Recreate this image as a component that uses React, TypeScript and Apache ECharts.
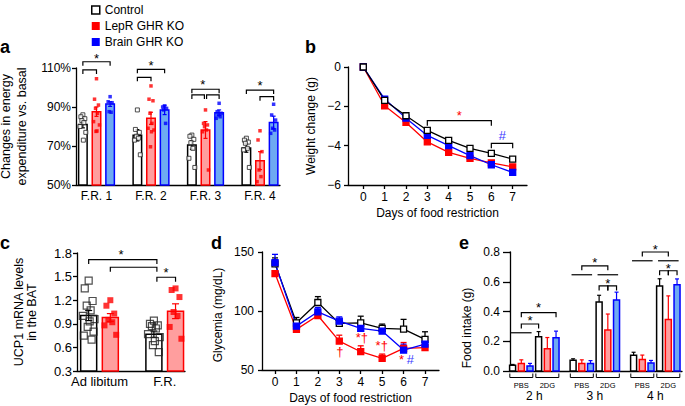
import React, { useEffect, useRef } from 'react';
import * as echarts from 'echarts';

const FONT = '"Liberation Sans", Arial, Helvetica, sans-serif';
const INK = '#000000';
const RED = '#ff0000';
const BLUE = '#0000ff';
const RED_FILL = '#ff9e9e';
const BLUE_FILL = '#6eaaf2';

// ---------- Panel a: energy expenditure (% of basal) ----------
const aCategories = ['F.R. 1', 'F.R. 2', 'F.R. 3', 'F.R. 4'];
const aTicks = [50, 70, 90, 110];
const aControl = [81, 75.5, 70.5, 69];
const aControlErr = [1.7, 2.9, 2.2, 2.2];
const aLepR = [87.6, 84.2, 78.2, 62.5];
const aLepRErr = [2.4, 3.1, 4.3, 4.6];
const aBrain = [91.5, 88.5, 87.1, 82.1];
const aBrainErr = [1.2, 2.4, 1.4, 3.2];
const aControlDots = [
  [86, 85, 84, 83, 82, 80, 77, 73],
  [88.5, 78.5, 77, 75, 74, 73, 65.5],
  [75.6, 75, 73.4, 71.7, 68.8, 63.7, 59],
  [74, 73, 72, 71.4, 68.8, 68, 59],
];
const aLepRDots = [
  [104.5, 94, 91, 89.3, 86.8, 82.5, 80.8, 77.7, 77.5],
  [100.8, 94, 93.2, 86.8, 81.6, 79.1, 78.2, 77.3, 69.6],
  [88.5, 81.6, 80.8, 79.9, 78.2, 77.3, 57.7],
  [77.8, 73.1, 67.1, 57.7, 54.3, 51.7],
];
const aBrainDots = [
  [95.3, 92.7, 92.2, 87.6, 87.3],
  [90.5, 90, 89.3, 88.5, 81.6],
  [91.9, 87.6, 86.8, 85.9, 85, 84.2],
  [91.4, 85.9, 83.3, 79.1, 78.2, 76.5],
];
// significance brackets: [from, to, level]
const aBrackets = [
  [-0.25, 0.25, 113.2], [-0.25, 0, 109],
  [0.75, 1.25, 109.3], [0.75, 1, 105.2],
  [1.75, 2.25, 99.1], [1.75, 1.98, 96.2], [2.02, 2.25, 96.2],
  [2.75, 3.25, 98.7], [3, 3.25, 95.3],
];
const aStars = [[0, 115.1], [1, 111.2], [1.95, 101.4], [3, 100.9]];

// ---------- Panel b: weight change ----------
const days = [0, 1, 2, 3, 4, 5, 6, 7];
const bTicks = [-6, -4, -2, 0];
const bControl = [0, -1.7, -2.48, -3.22, -3.73, -4.14, -4.39, -4.68];
const bLepR = [0, -1.97, -2.82, -3.81, -4.34, -4.65, -4.88, -5.08];
const bBrain = [0, -1.63, -2.6, -3.48, -4.0, -4.51, -4.97, -5.36];
const bBrackets = [[3, 6, -2.73], [6, 7, -3.88]];
const bNotes = [[4.5, -2.46], [6.5, -3.5]];
const bNoteText = ['*', '#'];
const bNoteColor = [RED, '#3a3aff'];

// ---------- Panel c: UCP1 mRNA ----------
const cCategories = ['Ad libitum', 'F.R.'];
const cTicks = [0.3, 0.6, 0.9, 1.2, 1.5, 1.8];
const cControl = [1.005, 0.768];
const cControlErr = [0.064, 0.04];
const cLepR = [0.98, 1.06];
const cLepRErr = [0.05, 0.094];
const cControlDots = [
  [1.45, 1.35, 1.19, 1.13, 1.07, 1.0, 0.96, 0.93, 0.86, 0.8, 0.75, 0.7],
  [0.94, 0.9, 0.88, 0.87, 0.84, 0.77, 0.73, 0.68, 0.63, 0.54],
];
const cLepRDots = [
  [1.2, 1.13, 1.03, 0.95, 0.92, 0.88, 0.76],
  [1.35, 1.33, 1.24, 1.05, 1.0, 0.86, 0.71],
];
const cBrackets = [[-0.166, 0.88, 1.717], [0.166, 0.88, 1.619], [0.88, 1.166, 1.492]];
const cStars = [[0.33, 1.784], [1.02, 1.552]];

// ---------- Panel d: glycemia ----------
const dTicks = [50, 100, 150];
const dControl = [140, 90, 107.2, 89.5, 90, 85.2, 84.7, 75.9];
const dControlErr = [5, 4.5, 5, 2, 5.6, 3.7, 8.2, 6.5];
const dLepR = [131.7, 84.4, 96.2, 74.5, 65.5, 59.9, 68.3, 68.9];
const dLepRErr = [2, 2, 2, 5, 5, 3.6, 5, 2];
const dBrain = [141, 87.2, 99.3, 91.4, 85.2, 83, 66.9, 72];
const dBrainErr = [7, 3, 3.7, 3.6, 3, 3, 5, 3];
const dNotes = [[3.03, 65.5], [4.05, 77.6], [4.98, 71.1], [5.9, 59], [6.3, 59]];
const dNoteText = ['†', '*†', '*†', '*', '#'];
const dNoteColor = [RED, RED, RED, RED, '#3a3aff'];

// ---------- Panel e: food intake ----------
const eGroups = ['2 h', '3 h', '4 h'];
const eTreatments = ['PBS', '2DG'];
const eTicks = [0, 0.2, 0.4, 0.6, 0.8];
// order: 2h PBS, 2h 2DG, 3h PBS, 3h 2DG, 4h PBS, 4h 2DG
const eControl = [0.038, 0.23, 0.072, 0.464, 0.106, 0.572];
const eControlErr = [0.006, 0.035, 0.01, 0.045, 0.02, 0.048];
const eLepR = [0.05, 0.15, 0.05, 0.275, 0.077, 0.347];
const eLepRErr = [0.025, 0.075, 0.025, 0.108, 0.03, 0.158];
const eBrain = [0.034, 0.223, 0.05, 0.478, 0.054, 0.579];
const eBrainErr = [0.017, 0.045, 0.02, 0.052, 0.017, 0.04];
const eLines = [[-0.385, -0.045, 0.257], [0.615, 0.955, 0.647], [1.045, 1.385, 0.647], [1.615, 1.955, 0.741], [2.045, 2.385, 0.741]];
const eBrackets = [
  [-0.215, 0.071, 0.316], [-0.215, 0.359, 0.392],
  [0.785, 1.215, 0.707], [1.071, 1.215, 0.572], [1.215, 1.359, 0.572],
  [1.785, 2.215, 0.8], [2.071, 2.215, 0.674], [2.215, 2.359, 0.674],
];
const eStars = [[-0.07, 0.34], [0.07, 0.424], [1.0, 0.728], [1.215, 0.588], [2.0, 0.818], [2.215, 0.687]];

const JIT = [0, -0.6, 0.6, -0.3, 0.3, -0.9, 0.9, 0.15, -0.15, 0.75, -0.75, 0.45];

const GRIDS = [
  { left: 76, top: 68, width: 204, height: 117 },
  { left: 348, top: 67, width: 179, height: 118 },
  { left: 77, top: 253, width: 108, height: 118 },
  { left: 262, top: 252, width: 177, height: 118 },
  { left: 510, top: 252, width: 172, height: 119 },
];

const txt = { color: INK, fontFamily: FONT, fontSize: 12 };

function barRender(width: number, fill: string, stroke: string, base: number, both: boolean, cap: number) {
  return (params: any, api: any) => {
    const x = api.value(0);
    const y = api.value(1);
    const e = api.value(2);
    const top = api.coord([x, y]);
    const bot = api.coord([x, base]);
    const eTop = api.coord([x, y + e]);
    const eBot = api.coord([x, both ? y - e : y]);
    const children: any[] = [
      { type: 'rect', shape: { x: top[0] - width / 2, y: top[1], width, height: bot[1] - top[1] }, style: { fill, stroke, lineWidth: 1.5 } },
      { type: 'line', shape: { x1: eTop[0], y1: eTop[1], x2: eBot[0], y2: eBot[1] }, style: { stroke, lineWidth: 1.2 } },
      { type: 'line', shape: { x1: eTop[0] - cap / 2, y1: eTop[1], x2: eTop[0] + cap / 2, y2: eTop[1] }, style: { stroke, lineWidth: 1.2 } },
    ];
    if (both) {
      children.push({ type: 'line', shape: { x1: eBot[0] - cap / 2, y1: eBot[1], x2: eBot[0] + cap / 2, y2: eBot[1] }, style: { stroke, lineWidth: 1.2 } });
    }
    return { type: 'group', children };
  };
}

function errRender(stroke: string, cap: number) {
  return (params: any, api: any) => {
    const x = api.value(0);
    const y = api.value(1);
    const e = api.value(2);
    const p = api.coord([x, y]);
    const t = api.coord([x, y + e]);
    return {
      type: 'group',
      children: [
        { type: 'line', shape: { x1: p[0], y1: p[1], x2: t[0], y2: t[1] }, style: { stroke, lineWidth: 1.3 } },
        { type: 'line', shape: { x1: t[0] - cap / 2, y1: t[1], x2: t[0] + cap / 2, y2: t[1] }, style: { stroke, lineWidth: 1.3 } },
      ],
    };
  };
}

function bracketSeries(gi: number, data: number[][], tick: number) {
  return {
    type: 'custom', xAxisIndex: gi, yAxisIndex: gi, silent: true, z: 5,
    data,
    renderItem: (params: any, api: any) => {
      const a = api.coord([api.value(0), api.value(2)]);
      const b = api.coord([api.value(1), api.value(2)]);
      return {
        type: 'polyline',
        shape: { points: [[a[0], a[1] + tick], [a[0], a[1]], [b[0], b[1]], [b[0], b[1] + tick]] },
        style: { stroke: INK, fill: null, lineWidth: 1.2 },
      };
    },
  };
}

function noteSeries(gi: number, data: number[][], texts: string[], colors: string[], size: number, italicHash = false) {
  return {
    type: 'custom', xAxisIndex: gi, yAxisIndex: gi, silent: true, z: 6,
    data,
    renderItem: (params: any, api: any) => {
      const p = api.coord([api.value(0), api.value(1)]);
      const t = texts[params.dataIndex];
      return {
        type: 'text', x: p[0], y: p[1],
        style: {
          text: t, fill: colors[params.dataIndex], fontSize: size, fontFamily: FONT,
          fontStyle: italicHash && t === '#' ? 'italic' : 'normal',
          align: 'center', verticalAlign: 'middle',
        },
      };
    },
  };
}

function dots(groups: number[][], offset: number, jit: number) {
  const out: number[][] = [];
  groups.forEach((arr, i) => arr.forEach((v, j) => out.push([i + offset + JIT[j % JIT.length] * jit, v])));
  return out;
}

function xAxis(gi: number, min: number, max: number, values: number[], fmt: (v: number) => string, ticks: boolean, margin: number, extra: any = {}) {
  return {
    type: 'value', gridIndex: gi, min, max,
    axisLine: { show: true, onZero: false, lineStyle: { color: INK, width: 1.3 } },
    axisTick: { show: ticks, customValues: values, length: 4, lineStyle: { color: INK, width: 1.3 } },
    axisLabel: { customValues: values, formatter: fmt, margin, ...txt },
    splitLine: { show: false },
    ...extra,
  };
}

function yAxis(gi: number, min: number, max: number, values: number[], fmt: (v: number) => string, margin: number, extra: any = {}) {
  return {
    type: 'value', gridIndex: gi, min, max,
    axisLine: { show: true, onZero: false, lineStyle: { color: INK, width: 1.3 } },
    axisTick: { show: true, customValues: values, length: 4, lineStyle: { color: INK, width: 1.3 } },
    axisLabel: { customValues: values, formatter: fmt, margin, ...txt },
    splitLine: { show: false },
    nameLocation: 'middle',
    ...extra,
  };
}

const minus = (v: number) => (v < 0 ? '\u2212' + Math.abs(v) : String(v));

function buildOption(): any {
  const series: any[] = [];

  // ----- panel a -----
  const aBarsDef = [
    { name: 'Control', vals: aControl, err: aControlErr, off: -0.25, fill: '#ffffff', stroke: INK },
    { name: 'LepR GHR KO', vals: aLepR, err: aLepRErr, off: 0, fill: RED_FILL, stroke: RED },
    { name: 'Brain GHR KO', vals: aBrain, err: aBrainErr, off: 0.25, fill: BLUE_FILL, stroke: BLUE },
  ];
  aBarsDef.forEach((d) => {
    series.push({
      type: 'custom', name: d.name, xAxisIndex: 0, yAxisIndex: 0, z: 2,
      data: d.vals.map((v, i) => [i + d.off, v, d.err[i]]),
      renderItem: barRender(8.5, d.fill, d.stroke, 50, true, 4),
    });
  });
  series.push({
    type: 'scatter', name: 'Control', xAxisIndex: 0, yAxisIndex: 0, z: 3, symbol: 'rect', symbolSize: 4,
    itemStyle: { color: '#ffffff', borderColor: '#222', borderWidth: 1 },
    data: dots(aControlDots, -0.25, 0.06),
  });
  series.push({
    type: 'scatter', name: 'LepR GHR KO', xAxisIndex: 0, yAxisIndex: 0, z: 3, symbol: 'rect', symbolSize: 3.5,
    itemStyle: { color: RED }, data: dots(aLepRDots, 0, 0.06),
  });
  series.push({
    type: 'scatter', name: 'Brain GHR KO', xAxisIndex: 0, yAxisIndex: 0, z: 3, symbol: 'rect', symbolSize: 3.5,
    itemStyle: { color: BLUE }, data: dots(aBrainDots, 0.25, 0.06),
  });
  series.push(bracketSeries(0, aBrackets, 4));
  series.push(noteSeries(0, aStars, aStars.map(() => '*'), aStars.map(() => INK), 13));

  // ----- panel b -----
  const bDef = [
    { name: 'Control', vals: bControl, color: INK, fill: '#ffffff' },
    { name: 'LepR GHR KO', vals: bLepR, color: RED, fill: RED },
    { name: 'Brain GHR KO', vals: bBrain, color: BLUE, fill: BLUE },
  ];
  [bDef[1], bDef[2], bDef[0]].forEach((d) => {
    series.push({
      type: 'line', name: d.name, xAxisIndex: 1, yAxisIndex: 1, symbol: 'rect', symbolSize: 6,
      lineStyle: { color: d.color, width: 1.3 },
      itemStyle: { color: d.fill, borderColor: d.color, borderWidth: 1.3 },
      data: days.map((x, i) => [x, d.vals[i]]),
    });
  });
  series.push(bracketSeries(1, bBrackets, 5));
  series.push(noteSeries(1, bNotes, bNoteText, bNoteColor, 13, true));

  // ----- panel c -----
  const cDef = [
    { name: 'Control', vals: cControl, err: cControlErr, off: -0.166, fill: '#ffffff', stroke: INK },
    { name: 'LepR GHR KO', vals: cLepR, err: cLepRErr, off: 0.166, fill: RED_FILL, stroke: RED },
  ];
  cDef.forEach((d) => {
    series.push({
      type: 'custom', name: d.name, xAxisIndex: 2, yAxisIndex: 2, z: 2,
      data: d.vals.map((v, i) => [i + d.off, v, d.err[i]]),
      renderItem: barRender(16, d.fill, d.stroke, 0.3, true, 7),
    });
  });
  series.push({
    type: 'scatter', name: 'Control', xAxisIndex: 2, yAxisIndex: 2, z: 3, symbol: 'rect', symbolSize: 7,
    itemStyle: { color: 'rgba(255,255,255,0)', borderColor: '#222', borderWidth: 1.2 },
    data: dots(cControlDots, -0.166, 0.1),
  });
  series.push({
    type: 'scatter', name: 'LepR GHR KO', xAxisIndex: 2, yAxisIndex: 2, z: 3, symbol: 'rect', symbolSize: 6,
    itemStyle: { color: RED }, data: dots(cLepRDots, 0.166, 0.1),
  });
  series.push(bracketSeries(2, cBrackets, 4.5));
  series.push(noteSeries(2, cStars, cStars.map(() => '*'), cStars.map(() => INK), 13));

  // ----- panel d -----
  const dDef = [
    { name: 'Control', vals: dControl, err: dControlErr, color: INK, fill: '#ffffff' },
    { name: 'LepR GHR KO', vals: dLepR, err: dLepRErr, color: RED, fill: RED },
    { name: 'Brain GHR KO', vals: dBrain, err: dBrainErr, color: BLUE, fill: BLUE },
  ];
  dDef.forEach((d) => {
    series.push({
      type: 'custom', xAxisIndex: 3, yAxisIndex: 3, z: 1, silent: true,
      data: days.map((x, i) => [x, d.vals[i], d.err[i]]),
      renderItem: errRender(d.color, 6),
    });
  });
  dDef.forEach((d) => {
    series.push({
      type: 'line', name: d.name, xAxisIndex: 3, yAxisIndex: 3, symbol: 'rect', symbolSize: 6, z: 3,
      lineStyle: { color: d.color, width: 1.3 },
      itemStyle: { color: d.fill, borderColor: d.color, borderWidth: 1.3 },
      data: days.map((x, i) => [x, d.vals[i]]),
    });
  });
  series.push(noteSeries(3, dNotes, dNoteText, dNoteColor, 13, true));

  // ----- panel e -----
  const eDef = [
    { name: 'Control', vals: eControl, err: eControlErr, off: -0.144, fill: '#ffffff', stroke: INK },
    { name: 'LepR GHR KO', vals: eLepR, err: eLepRErr, off: 0, fill: RED_FILL, stroke: RED },
    { name: 'Brain GHR KO', vals: eBrain, err: eBrainErr, off: 0.144, fill: BLUE_FILL, stroke: BLUE },
  ];
  eDef.forEach((d) => {
    series.push({
      type: 'custom', name: d.name, xAxisIndex: 4, yAxisIndex: 4, z: 2,
      data: d.vals.map((v, i) => [Math.floor(i / 2) + (i % 2 === 0 ? -0.215 : 0.215) + d.off, v, d.err[i]]),
      renderItem: barRender(6, d.fill, d.stroke, 0, false, 4),
    });
  });
  // PBS / 2DG group markers under the axis
  const eTreat: number[][] = [];
  eGroups.forEach((g, gi) => eTreatments.forEach((t, ti) => eTreat.push([gi + (ti === 0 ? -0.215 : 0.215), 0, ti])));
  series.push({
    type: 'custom', xAxisIndex: 4, yAxisIndex: 4, silent: true, z: 5,
    data: eTreat,
    renderItem: (params: any, api: any) => {
      const c = api.coord([api.value(0), 0]);
      const half = 11.5;
      const yl = c[1] + 6.5;
      return {
        type: 'group',
        children: [
          { type: 'polyline', shape: { points: [[c[0] - half, yl - 4], [c[0] - half, yl], [c[0] + half, yl], [c[0] + half, yl - 4]] }, style: { stroke: INK, fill: null, lineWidth: 1 } },
          { type: 'text', x: c[0], y: yl + 8, style: { text: eTreatments[api.value(2)], fill: INK, fontSize: 7.5, fontFamily: FONT, align: 'center', verticalAlign: 'middle' } },
        ],
      };
    },
  });
  series.push({
    type: 'custom', xAxisIndex: 4, yAxisIndex: 4, silent: true, z: 5,
    data: eLines,
    renderItem: (params: any, api: any) => {
      const a = api.coord([api.value(0), api.value(2)]);
      const b = api.coord([api.value(1), api.value(2)]);
      return { type: 'line', shape: { x1: a[0], y1: a[1], x2: b[0], y2: b[1] }, style: { stroke: INK, lineWidth: 1.2 } };
    },
  });
  series.push(bracketSeries(4, eBrackets, 4.5));
  series.push(noteSeries(4, eStars, eStars.map(() => '*'), eStars.map(() => INK), 13));

  return {
    animation: false,
    backgroundColor: '#ffffff',
    textStyle: { fontFamily: FONT },
    legend: {
      orient: 'vertical', left: 86, top: -1, itemWidth: 8, itemHeight: 8, itemGap: 4,
      selectedMode: false,
      textStyle: { ...txt, fontSize: 12 },
      data: [
        { name: 'Control', icon: 'rect', itemStyle: { color: '#ffffff', borderColor: INK, borderWidth: 1.5 } },
        { name: 'LepR GHR KO', icon: 'rect', itemStyle: { color: RED, borderWidth: 0 } },
        { name: 'Brain GHR KO', icon: 'rect', itemStyle: { color: BLUE, borderWidth: 0 } },
      ],
    },
    grid: GRIDS.map((g) => ({ ...g, containLabel: false, outerBoundsMode: 'none' })),
    xAxis: [
      xAxis(0, -0.376, 3.367, [0, 1, 2, 3], (v) => aCategories[Math.round(v)], false, 5),
      xAxis(1, -0.717, 7.671, days, (v) => String(v), true, 6, { name: 'Days of food restriction', nameLocation: 'middle', nameGap: 22, nameTextStyle: txt }),
      xAxis(2, -0.345, 1.311, [0, 1], (v) => cCategories[Math.round(v)], false, 4, { axisLabel: { customValues: [0, 1], formatter: (v: number) => cCategories[Math.round(v)], margin: 4, ...txt, fontSize: 13 } }),
      xAxis(3, -0.607, 7.653, days, (v) => String(v), true, 6, { name: 'Days of food restriction', nameLocation: 'middle', nameGap: 22, nameTextStyle: txt }),
      xAxis(4, -0.402, 2.441, [0, 1, 2], (v) => eGroups[Math.round(v)], false, 19),
    ],
    yAxis: [
      yAxis(0, 50, 110, aTicks, (v) => v + '%', 5, { name: 'Changes in energy\nexpenditure vs. basal', nameGap: 46, nameTextStyle: { ...txt, fontSize: 12.5, lineHeight: 16 } }),
      yAxis(1, -6, 0, bTicks, minus, 7, { name: 'Weight change (g)', nameGap: 30, nameTextStyle: { ...txt, lineHeight: 14 } }),
      yAxis(2, 0.3, 1.8, cTicks, (v) => v.toFixed(1), 5, { name: 'UCP1 mRNA levels\nin the BAT', nameGap: 38, nameTextStyle: { ...txt, fontSize: 12.5, lineHeight: 13.5 }, axisLabel: { customValues: cTicks, formatter: (v: number) => v.toFixed(1), margin: 5, ...txt, fontSize: 13 } }),
      yAxis(3, 50, 150, dTicks, (v) => String(v), 8, { name: 'Glycemia (mg/dL)', nameGap: 37, nameTextStyle: { ...txt, lineHeight: 14, padding: [0, 8, 0, 0] } }),
      yAxis(4, 0, 0.8, eTicks, (v) => v.toFixed(1), 10, { name: 'Food intake (g)', nameGap: 36, nameTextStyle: { ...txt, lineHeight: 14, padding: [0, 33, 0, 0] }, axisTick: { show: true, customValues: eTicks, length: 7, lineStyle: { color: INK, width: 1.3 } } }),
    ],
    graphic: [
      { type: 'text', left: 0, top: 38, style: { text: 'a', font: 'bold 18px ' + FONT, fill: INK } },
      { type: 'text', left: 305, top: 38, style: { text: 'b', font: 'bold 18px ' + FONT, fill: INK } },
      { type: 'text', left: 0, top: 234, style: { text: 'c', font: 'bold 18px ' + FONT, fill: INK } },
      { type: 'text', left: 211, top: 234, style: { text: 'd', font: 'bold 18px ' + FONT, fill: INK } },
      { type: 'text', left: 459, top: 234, style: { text: 'e', font: 'bold 18px ' + FONT, fill: INK } },
    ],
    series,
  };
}

export default function App() {
  const ref = useRef<HTMLDivElement>(null);
  useEffect(() => {
    document.body.style.margin = '0';
    const el = ref.current as HTMLDivElement;
    const chart = echarts.init(el, null, { renderer: 'svg', width: 685, height: 406 });
    chart.setOption(buildOption());
    return () => chart.dispose();
  }, []);
  return <div ref={ref} style={{ position: 'absolute', left: 0, top: 0, width: 685, height: 406 }} />;
}
